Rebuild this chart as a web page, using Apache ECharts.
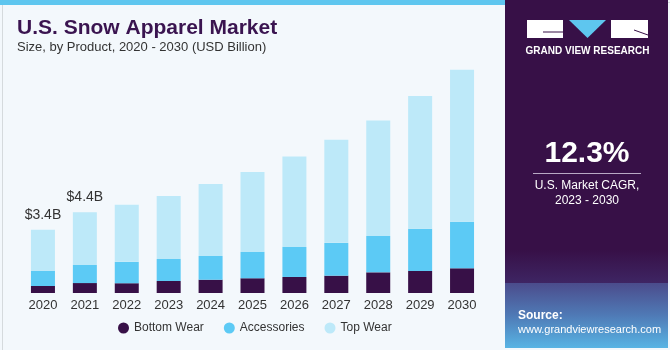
<!DOCTYPE html>
<html>
<head>
<meta charset="utf-8">
<script src="https://cdn.jsdelivr.net/npm/echarts@6/dist/echarts.min.js"></script>
<style>
  html, body { margin: 0; padding: 0; background: #f3f8fc; }
  #chart { width: 670px; height: 350px; }
</style>
</head>
<body>
<div id="chart"></div>
<script>
// data (USD Billion)
var years = ['2020', '2021', '2022', '2023', '2024', '2025', '2026', '2027', '2028', '2029', '2030'];
var bottomWear = [0.38, 0.54, 0.53, 0.65, 0.72, 0.80, 0.87, 0.94, 1.12, 1.20, 1.34];
var accessories = [0.82, 0.98, 1.16, 1.20, 1.29, 1.43, 1.63, 1.78, 1.97, 2.28, 2.52];
var topWear = [2.23, 2.86, 3.10, 3.42, 3.91, 4.33, 4.91, 5.60, 6.27, 7.21, 8.26];
var totalLabels = ['$3.4B', '$4.4B'];

var chart = echarts.init(document.getElementById('chart'));

var topData = topWear.map(function (v, i) {
  if (i < totalLabels.length) {
    return {
      value: v,
      label: { show: true, position: 'top', distance: 8, formatter: totalLabels[i] }
    };
  }
  return v;
});

var font = 'Liberation Sans';

var option = {
  backgroundColor: '#f3f8fc',
  animation: false,
  textStyle: { fontFamily: font },
  grid: { left: 22, right: 187, top: 35, bottom: 57 },
  legend: {
    bottom: 11,
    left: 113,
    icon: 'circle',
    itemWidth: 11,
    itemHeight: 11,
    itemGap: 20,
    textStyle: { color: '#333', fontSize: 12, fontFamily: font },
    data: ['Bottom Wear', 'Accessories', 'Top Wear']
  },
  xAxis: {
    type: 'category',
    data: years,
    axisLine: { show: false },
    axisTick: { show: false },
    axisLabel: { color: '#333', fontSize: 13, margin: 6, fontFamily: font }
  },
  yAxis: {
    type: 'value',
    min: 0,
    max: 14,
    show: false
  },
  series: [
    {
      name: 'Bottom Wear',
      type: 'bar',
      stack: 'total',
      barWidth: 24,
      itemStyle: { color: '#371047' },
      data: bottomWear
    },
    {
      name: 'Accessories',
      type: 'bar',
      stack: 'total',
      itemStyle: { color: '#5ccaf5' },
      data: accessories
    },
    {
      name: 'Top Wear',
      type: 'bar',
      stack: 'total',
      itemStyle: { color: '#bde9f9' },
      label: { color: '#333', fontSize: 14, fontFamily: font },
      data: topData
    }
  ],
  graphic: [
    // outer border
    { type: 'rect', left: 0, top: 0, shape: { x: 0.5, y: 0.5, width: 669, height: 348 }, style: { fill: 'none', stroke: '#d5dadd', lineWidth: 1 } },
    // top stripe
    { type: 'rect', left: 0, top: 0, shape: { width: 506, height: 5 }, style: { fill: '#5ec6ef' } },
    // title
    { type: 'text', left: 17, top: 18, style: { text: 'U.S. Snow Apparel Market', fill: '#3a1450', font: 'bold 21px "Liberation Sans"' } },
    { type: 'text', left: 17, top: 41, style: { text: 'Size, by Product, 2020 - 2030 (USD Billion)', fill: '#333', font: '13px "Liberation Sans"' } },
    // right panel
    { type: 'rect', left: 505, top: 0, shape: { width: 163, height: 348 }, style: { fill: '#371047' } },
    {
      type: 'rect', left: 505, top: 250, shape: { width: 163, height: 33 },
      style: {
        fill: new echarts.graphic.LinearGradient(0, 0, 0, 1, [
          { offset: 0, color: '#371047' },
          { offset: 1, color: '#3e2563' }
        ])
      }
    },
    {
      type: 'rect', left: 505, top: 283, shape: { width: 163, height: 65 },
      style: {
        fill: new echarts.graphic.LinearGradient(0, 0, 0, 1, [
          { offset: 0, color: '#4b4c8c' },
          { offset: 0.5, color: '#4f7ab6' },
          { offset: 1, color: '#58b4e4' }
        ])
      }
    },
    // logo
    { type: 'rect', left: 527, top: 20, shape: { width: 36, height: 18 }, style: { fill: '#ffffff' } },
    { type: 'line', shape: { x1: 543, y1: 32, x2: 563, y2: 32 }, style: { stroke: '#371047', lineWidth: 1 } },
    { type: 'polygon', shape: { points: [[569, 20], [606, 20], [587.5, 38]] }, style: { fill: '#5ec6ef' } },
    { type: 'rect', left: 611, top: 20, shape: { width: 37, height: 18 }, style: { fill: '#ffffff' } },
    { type: 'line', shape: { x1: 634, y1: 30, x2: 648, y2: 35 }, style: { stroke: '#371047', lineWidth: 1 } },
    { type: 'text', x: 587.5, y: 46, style: { text: 'GRAND VIEW RESEARCH', fill: '#fff', font: 'bold 10px "Liberation Sans"', align: 'center' } },
    // CAGR
    { type: 'text', x: 587, y: 139, style: { text: '12.3%', fill: '#fff', font: 'bold 30px "Liberation Sans"', align: 'center' } },
    { type: 'line', shape: { x1: 533, y1: 173.5, x2: 641, y2: 173.5 }, style: { stroke: '#b8a9c4', lineWidth: 1 } },
    { type: 'text', x: 587, y: 180, style: { text: 'U.S. Market CAGR,', fill: '#fff', font: '12px "Liberation Sans"', align: 'center' } },
    { type: 'text', x: 587, y: 195, style: { text: '2023 - 2030', fill: '#fff', font: '12px "Liberation Sans"', align: 'center' } },
    // source
    { type: 'text', left: 518, top: 310, style: { text: 'Source:', fill: '#fff', font: 'bold 12px "Liberation Sans"' } },
    { type: 'text', left: 518, top: 324, style: { text: 'www.grandviewresearch.com', fill: '#fff', font: '11px "Liberation Sans"' } }
  ]
};

chart.setOption(option);
</script>
</body>
</html>
